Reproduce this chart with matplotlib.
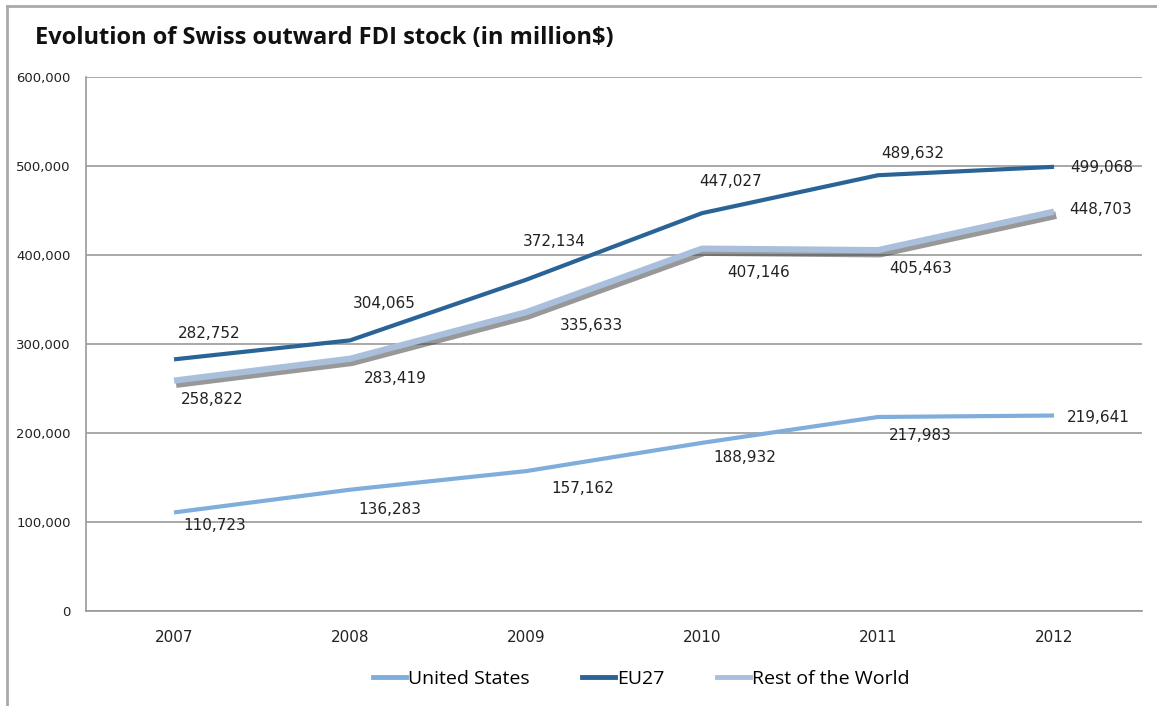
import matplotlib.pyplot as plt
import matplotlib.patheffects as pe
from matplotlib.lines import Line2D

years = ['2007', '2008', '2009', '2010', '2011', '2012']
us = [110723, 136283, 157162, 188932, 217983, 219641]
eu27 = [282752, 304065, 372134, 447027, 489632, 499068]
row = [258822, 283419, 335633, 407146, 405463, 448703]

# label offsets in pixels (dx, dy) relative to each point
eu_off = [(35, 26), (34, 37), (28, 38), (29, 32), (35, 22), (48, -1)]
row_off = [(38, -19), (45, -20), (65, -13), (57, -24), (43, -18), (47, 2)]
us_off = [(41, -13), (40, -20), (57, -17), (43, -15), (42, -19), (44, -2)]

c_us = '#80aedc'
c_eu = '#2a6497'
c_row = '#a9bfdb'

fig = plt.figure(figsize=(11.57, 7.06), dpi=100)
ax = fig.add_axes([86/1157, 1 - 611/706, (1142-86)/1157, (611-77)/706])

x = range(len(years))
ax.plot(x, us, color=c_us, lw=3, solid_capstyle='butt')
ax.plot(x, eu27, color=c_eu, lw=3, solid_capstyle='butt')
ax.plot(x, row, color=c_row, lw=4.5, solid_capstyle='butt',
        path_effects=[pe.SimpleLineShadow(offset=(1.5, -2.5), shadow_color='#444444', alpha=0.55, linewidth=5.5),
                      pe.Normal()])

lab_font = dict(fontsize=11, color='#222222', ha='center', va='center')
for vals, offs in [(eu27, eu_off), (row, row_off), (us, us_off)]:
    for i, v in enumerate(vals):
        ax.annotate(f'{v:,}', (i, v), xytext=offs[i], textcoords='offset pixels', **lab_font)

ax.set_xlim(-0.5, 5.5)
ax.set_ylim(0, 600000)
ax.set_yticks(range(0, 600001, 100000))
ax.set_yticklabels([f'{v:,}' for v in range(0, 600001, 100000)])
ax.set_xticks(list(x))
ax.set_xticklabels(years)
ax.tick_params(axis='y', length=0, pad=11, labelsize=9.5, colors='#222222')
ax.tick_params(axis='x', length=0, pad=14, labelsize=11, colors='#222222')
ax.grid(axis='y', color='#999999', lw=1.2)
ax.set_axisbelow(True)
for s in ['top', 'right']:
    ax.spines[s].set_visible(False)
for s in ['left', 'bottom']:
    ax.spines[s].set_color('#999999')
    ax.spines[s].set_linewidth(1.2)

fig.text(35/1157, 1 - 38/706, 'Evolution of Swiss outward FDI stock (in million$)',
         fontsize=17, fontweight='bold', family='Open Sans', va='center', ha='left', color='#111111')

# outer frame
fig.add_artist(Line2D([7/1157, 7/1157], [0, 1 - 6/706], color='#aaaaaa', lw=2, transform=fig.transFigure))
fig.add_artist(Line2D([7/1157, 1], [1 - 6/706, 1 - 6/706], color='#aaaaaa', lw=2, transform=fig.transFigure))

handles = [Line2D([], [], color=c_us, lw=3.5),
           Line2D([], [], color=c_eu, lw=3.5),
           Line2D([], [], color=c_row, lw=3.5)]
fig.legend(handles, ['United States', 'EU27', 'Rest of the World'], loc='center',
           bbox_to_anchor=(641/1157, 1 - 679/706), ncol=3, frameon=False,
           prop={'family': 'Open Sans', 'size': 14}, handlelength=1.7, handletextpad=0.1,
           columnspacing=2.7)

fig.savefig('out.png', dpi=100)
